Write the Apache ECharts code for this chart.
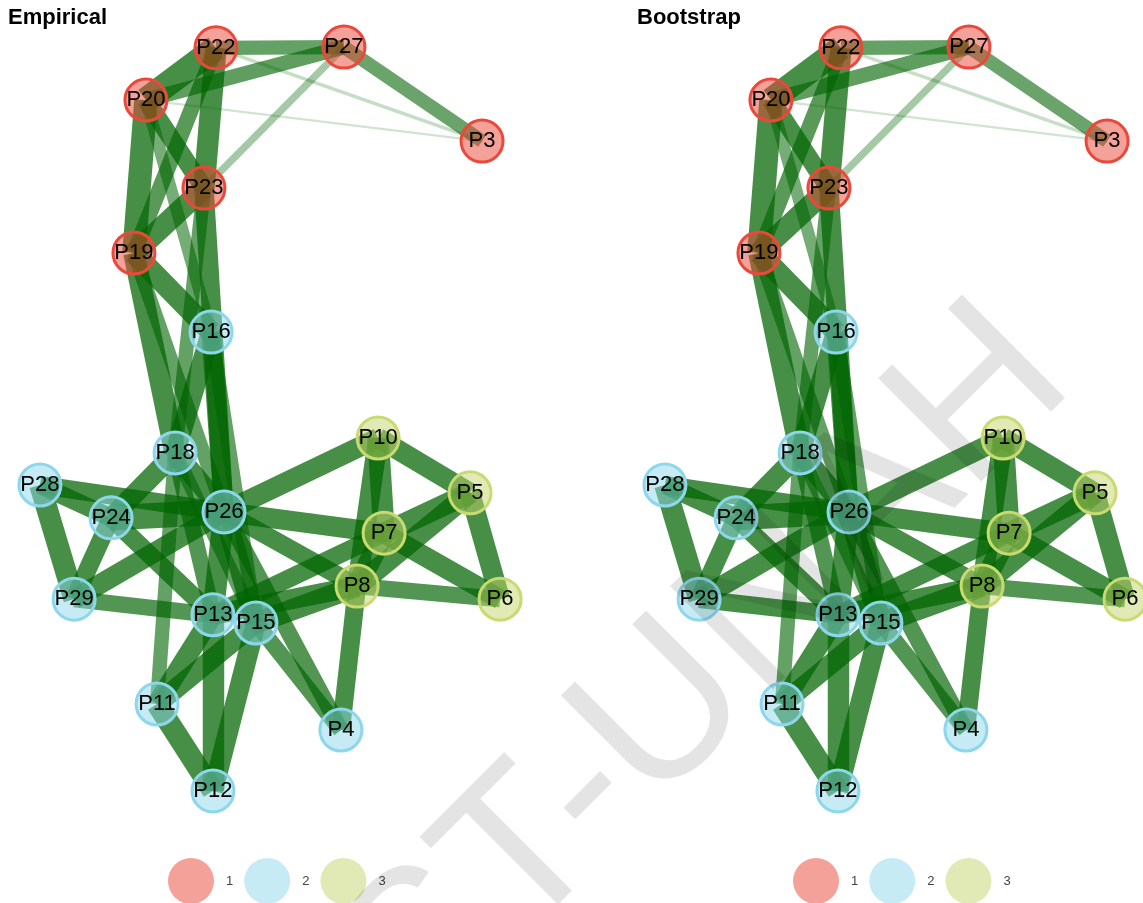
<!DOCTYPE html>
<html><head><meta charset="utf-8">
<script src="https://cdn.jsdelivr.net/npm/echarts@6/dist/echarts.min.js"></script>
<style>html,body{margin:0;padding:0;background:#fff}#c{width:1143px;height:903px}</style>
</head><body><div id="c"></div>
<script>
// ---- data ----
const panelTitles = ['Empirical', 'Bootstrap'];
const groupNames = ['1', '2', '3'];
const nodeNames = ['P22','P27','P20','P3','P23','P19','P16','P10','P18','P28','P5','P24','P26','P7','P29','P8','P6','P13','P15','P11','P4','P12'];
const nodeGroups = [1,1,1,1,1,1,2,3,2,2,3,2,2,3,2,3,3,2,2,2,2,2];
// layout coordinates (shared by both panels)
const nodeX = [-0.234,0.320,-0.537,0.918,-0.286,-0.589,-0.255,0.468,-0.411,-0.996,0.866,-0.688,-0.199,0.494,-0.848,0.377,0.996,-0.247,-0.061,-0.489,0.307,-0.247];
const nodeY = [0.995,0.997,0.855,0.745,0.619,0.445,0.233,-0.051,-0.091,-0.177,-0.198,-0.265,-0.249,-0.306,-0.483,-0.448,-0.483,-0.525,-0.547,-0.764,-0.834,-0.997];
const edgeFrom = ['P22','P22','P20','P22','P20','P27','P27','P22','P22','P20','P20','P23','P20','P19','P23','P23','P19','P19','P16','P16','P16',
  'P18','P18','P18','P18','P18','P28','P28','P28','P24','P24','P24','P29','P29','P26','P26','P26','P26','P26','P26','P13','P15','P15','P13','P15','P11','P13','P15','P13','P8','P8','P10','P10','P10','P8','P7','P7','P5','P8'];
const edgeTo   = ['P27','P20','P27','P3','P3','P3','P23','P23','P19','P23','P19','P19','P16','P16','P26','P18','P18','P26','P18','P26','P15',
  'P26','P24','P11','P13','P15','P26','P24','P29','P26','P29','P13','P26','P13','P10','P7','P8','P4','P13','P15','P12','P12','P4','P11','P11','P12','P8','P8','P7','P4','P7','P8','P7','P5','P5','P5','P6','P6','P6'];
const empiricalWeights = [0.22,0.39,0.23,0.055,0.035,0.21,0.11,0.33,0.24,0.28,0.36,0.33,0.19,0.33,0.30,0.22,0.33,0.22,0.31,0.30,0.22,
  0.33,0.31,0.22,0.25,0.22,0.28,0.28,0.33,0.39,0.28,0.28,0.31,0.25,0.31,0.31,0.28,0.25,0.33,0.33,0.33,0.31,0.25,0.31,0.31,0.33,0.31,0.33,0.28,0.28,0.33,0.31,0.33,0.31,0.33,0.33,0.31,0.31,0.25];
const bootstrapWeights = [0.22,0.38,0.23,0.05,0.035,0.21,0.11,0.33,0.24,0.28,0.36,0.33,0.19,0.33,0.30,0.22,0.33,0.22,0.31,0.30,0.22,
  0.33,0.31,0.22,0.25,0.22,0.28,0.28,0.33,0.38,0.28,0.28,0.31,0.27,0.31,0.31,0.28,0.25,0.33,0.33,0.33,0.31,0.25,0.31,0.31,0.33,0.31,0.33,0.28,0.28,0.33,0.31,0.33,0.31,0.33,0.33,0.31,0.31,0.25];
const watermarkText = 'ST-UNAH';

// ---- styling ----
const fills = ['rgba(234,67,53,0.5)', 'rgba(141,216,235,0.5)', 'rgba(196,214,108,0.5)'];
const borders = ['rgb(234,72,58)', 'rgb(140,215,235)', 'rgb(200,218,112)'];
const FONT = 'Liberation Sans, Arial, sans-serif';
const panelShift = 625;
const widthScale = 39 / 0.6;   // graph edges are drawn at 0.6 of lineStyle width

function makeSeries(idx, weights) {
  return {
    type: 'graph', name: panelTitles[idx], layout: 'none',
    coordinateSystem: 'cartesian2d', xAxisIndex: idx, yAxisIndex: idx,
    symbol: 'circle', symbolSize: 42, silent: true,
    categories: groupNames.map((g, i) => ({ name: g, itemStyle: { color: fills[i], borderColor: borders[i], borderWidth: 3 } })),
    data: nodeNames.map((n, i) => ({ name: n, value: [nodeX[i], nodeY[i]], category: nodeGroups[i] - 1 })),
    links: edgeFrom.map((s, i) => ({
      source: s, target: edgeTo[i],
      lineStyle: { width: weights[i] * widthScale, opacity: Math.min(0.72, 0.1 + 2.3 * weights[i]) }
    })),
    lineStyle: { color: '#006400', curveness: 0 },
    label: { show: true, position: 'inside', fontSize: 22, color: '#000', fontFamily: FONT },
    emphasis: { disabled: true }
  };
}

const chart = echarts.init(document.getElementById('c'), null, { renderer: 'canvas' });
chart.setOption({
  animation: false,
  backgroundColor: '#fff',
  title: panelTitles.map((t, i) => ({
    text: t, left: 8 + i * 629, top: 7, padding: 0,
    textStyle: { fontSize: 22, fontWeight: 'bold', color: '#000', fontFamily: FONT }
  })),
  grid: [0, 1].map(i => ({ left: 39 + i * panelShift, top: 46, width: 462, height: 746 })),
  xAxis: [0, 1].map(i => ({ gridIndex: i, type: 'value', min: -1, max: 1, show: false })),
  yAxis: [0, 1].map(i => ({ gridIndex: i, type: 'value', min: -1, max: 1, show: false })),
  legend: [0, 1].map(i => ({
    data: groupNames, left: 163 + i * panelShift, top: 853, orient: 'horizontal',
    icon: 'circle', itemWidth: 46, itemHeight: 46, itemGap: 11, selectedMode: false,
    itemStyle: { borderWidth: 0 },
    textStyle: { fontSize: 13, color: '#444', fontFamily: FONT, padding: [0, 0, 0, 7] }
  })),
  series: [makeSeries(0, empiricalWeights), makeSeries(1, bootstrapWeights)],
  graphic: [{
    type: 'text', x: 378, y: 1002, rotation: Math.PI / 4, z: 100, silent: true,
    style: { text: watermarkText, fontSize: 212, fontFamily: FONT, fill: 'rgba(0,0,0,0.105)', align: 'left', verticalAlign: 'middle' }
  }]
});
</script>
</body></html>
